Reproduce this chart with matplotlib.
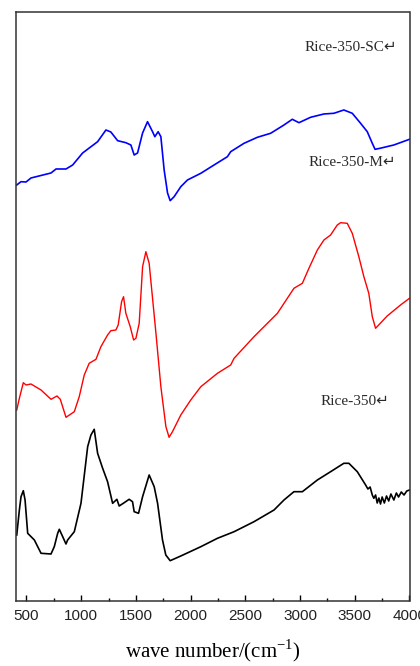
import matplotlib
matplotlib.use("Agg")
import matplotlib.pyplot as plt

# FTIR spectra of rice-husk derived samples (arbitrary transmittance units)
wn_sc = [411, 450, 496, 541, 724, 770, 861, 922, 1013, 1150, 1226, 1271, 1333, 1408,
         1454, 1484, 1515, 1561, 1606, 1652, 1673, 1703, 1728, 1758, 1789, 1813, 1849,
         1910, 1971, 2093, 2214, 2336, 2366, 2488, 2610, 2731, 2853, 2929, 2990, 3096,
         3218, 3309, 3400, 3477, 3553, 3614, 3660, 3685, 3731, 3857, 4000]
t_sc = [416, 419.3, 419, 423, 428, 432, 432, 436, 448, 459.3, 471, 469, 460.3, 458.3,
        456, 446, 448, 468, 479.3, 469.3, 464.3, 469.3, 464.3, 431, 408, 400.3, 404.3,
        414.3, 421, 427.7, 436, 444.3, 449.3, 457.7, 463.7, 467.7, 476, 481.7, 478.3, 483.7,
        487, 487.7, 491, 487.7, 477.7, 469.3, 457.7, 451.7, 452.7, 456, 461.7]

wn_m = [411, 435, 471, 496, 541, 633, 724, 779, 809, 861, 937, 982, 1028, 1073, 1135,
        1180, 1241, 1271, 1317, 1338, 1369, 1387, 1408, 1448, 1479, 1500, 1530, 1561,
        1591, 1621, 1683, 1728, 1774, 1803, 1834, 1910, 2001, 2093, 2245, 2366, 2397,
        2579, 2793, 2944, 3021, 3081, 3158, 3218, 3279, 3340, 3370, 3431, 3477, 3537,
        3583, 3628, 3660, 3690, 3796, 3918, 4000]
t_m = [191, 202.7, 218.3, 216, 217, 211, 201.7, 205, 201.7, 183.7, 189.3, 204.3, 226,
       237.7, 241.7, 254.3, 266, 270.3, 271, 276, 299.3, 304.3, 287.7, 274.3, 261, 262.7,
       277.7, 334.3, 349.3, 337.7, 267.7, 214.3, 174.3, 163.7, 169.3, 186, 201, 214.3,
       227.7, 236, 242.7, 264.3, 287.7, 312.7, 317.7, 332.7, 351, 361, 366, 376, 378.3,
       377.7, 367.7, 344.3, 324.3, 307.7, 284.3, 272.7, 285, 296, 302.7]

wn_raw = [411, 435, 450, 471, 487, 511, 572, 633, 724, 754, 785, 800, 831, 861, 876,
          937, 998, 1059, 1089, 1119, 1150, 1196, 1241, 1287, 1326, 1347, 1393, 1438,
          1469, 1484, 1524, 1561, 1621, 1667, 1698, 1743, 1773, 1813, 1910, 2093, 2245,
          2397, 2579, 2762, 2853, 2944, 3021, 3158, 3279, 3400, 3446, 3523, 3599, 3620,
          3640, 3660, 3674, 3690, 3705, 3720, 3735, 3750, 3770, 3790, 3810, 3830, 3857,
          3880, 3900, 3925, 3950, 3975, 4000]
t_raw = [66, 91, 104.3, 110.3, 101, 67.7, 61, 47.7, 47, 54.3, 67.7, 71.7, 64.3, 57, 61,
         69.3, 97.7, 154.3, 166, 171.7, 147.7, 132.7, 119.3, 97.7, 101.7, 95, 98.3, 101.7,
         99.3, 89.3, 87.7, 104.3, 126, 114.3, 97.7, 61, 46, 40.3, 45, 54.3, 62.7, 69.3,
         79.3, 91, 101, 109.3, 109.3, 121, 129.3, 137.7, 137.7, 129.3, 116, 112, 114, 106,
         102.7, 106, 98, 103, 97, 104, 98, 105, 100, 107, 101, 108, 104, 109, 106, 110, 111]

labels = ["Rice-350-SC\u21b5", "Rice-350-M\u21b5", "Rice-350\u21b5"]
label_pos = [(3890, 553), (3875, 438), (3820, 199)]

fig = plt.figure(figsize=(4.2, 6.66), dpi=100)
ax = fig.add_axes([0.037, 0.0976, 0.938, 0.8844])

ax.plot(wn_sc, t_sc, color="#0000ff", lw=1.2)
ax.plot(wn_m, t_m, color="#ff0000", lw=1.0)
ax.plot(wn_raw, t_raw, color="black", lw=1.2)

for text, (x, y) in zip(labels, label_pos):
    ax.text(x, y, text, ha="right", va="center", fontsize=11, color="#2a2a2a",
            family=["Liberation Serif", "DejaVu Sans"])

ax.set_xlim(400, 4000)
ax.set_ylim(0, 589)
ax.set_yticks([])
ax.set_xticks(range(500, 4001, 500))
ax.set_xticks(range(750, 4000, 500), minor=True)
ax.tick_params(axis="x", which="major", direction="in", length=4, width=1,
               labelsize=11, pad=6, labelcolor="#222222")
ax.tick_params(axis="x", which="minor", direction="in", length=2.5, width=1)
for lab in ax.get_xticklabels():
    lab.set_family("Liberation Sans")
for sp in ax.spines.values():
    sp.set_linewidth(1.1)
    sp.set_color("#333333")

ax.set_xlabel("wave number/(cm$^{\\mathregular{-1}}$)", fontsize=15,
              family="Liberation Serif", labelpad=10)

fig.savefig("out.png", dpi=100)
